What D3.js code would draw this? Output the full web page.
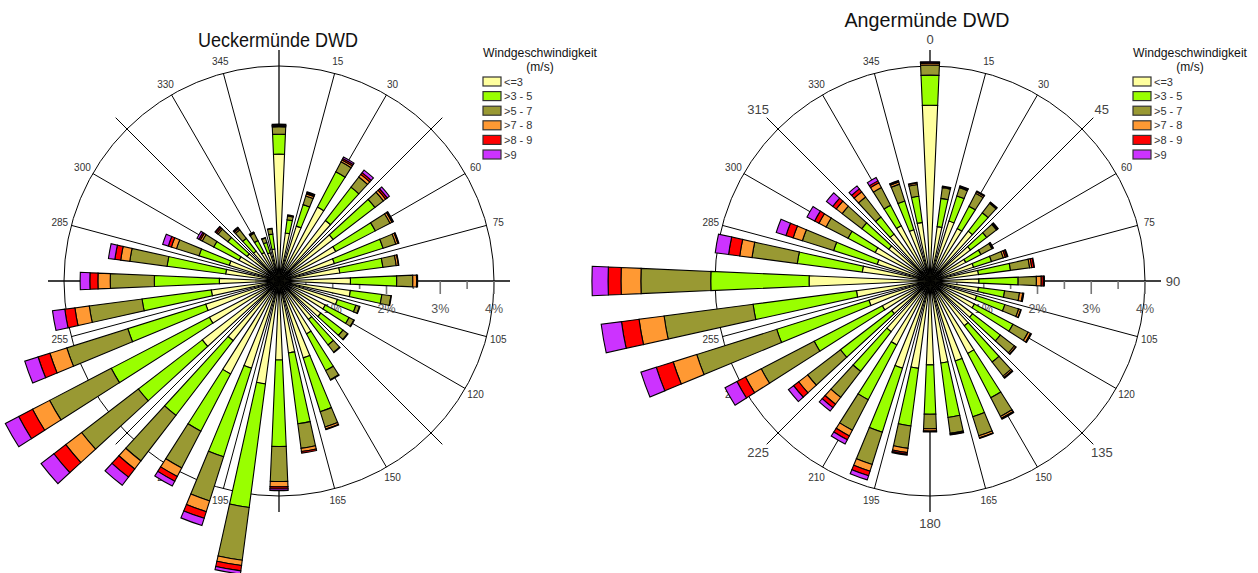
<!DOCTYPE html>
<html><head><meta charset="utf-8">
<script src="https://cdn.jsdelivr.net/npm/d3@7"></script>
<style>
body{margin:0;background:#fff}
svg{display:block}
text{font-family:"Liberation Sans",Arial,sans-serif}
</style>
</head><body>
<svg id="chart" width="1258" height="573"></svg>
<script>
// ---------- data ----------
const directions = d3.range(0, 360, 10); // 0,10,...,350
const speedClasses = ["<=3", ">3 - 5", ">5 - 7", ">7 - 8", ">8 - 9", ">9"];
const speedColors = ["#FFFF9E", "#99FF00", "#999933", "#FF9933", "#FF0000", "#CC33FF"];
const angleLabels = [15, 30, 60, 75, 105, 120, 150, 165, 195, 210, 240, 255, 285, 300, 330, 345];
const cardinalLabels = [0, 45, 90, 135, 180, 225, 270, 315];
const percentTicks = [0.5, 1, 1.5, 2, 2.5, 3, 3.5, 4];
const percentLabels = [1, 2, 3, 4];

// Ueckermünde DWD (% frequency per direction)
const ueck_le3 = [2.36,0.90,1.07,1.55,1.42,1.27,1.19,1.08,1.14,1.33,1.34,1.14,0.97,0.98,0.90,1.11,1.50,1.35,1.47,1.93,1.70,1.95,1.40,1.80,1.46,1.43,1.27,1.11,1.00,0.97,0.84,0.75,0.70,0.60,0.55,0.60];
const ueck_3_5 = [0.37,0.25,0.42,0.74,0.78,0.98,0.83,0.95,0.81,0.86,0.59,0.36,0.50,0.52,0.60,0.77,1.05,1.33,1.61,2.32,1.73,1.20,1.75,1.50,2.06,1.52,1.30,1.21,1.10,0.59,0.53,0.45,0.30,0.25,0.20,0.28];
const ueck_5_7 = [0.14,0.07,0.17,0.21,0.24,0.20,0.31,0.25,0.25,0.30,0.17,0.07,0.10,0.11,0.17,0.19,0.30,0.46,0.65,0.99,0.86,0.77,1.07,1.33,1.29,1.19,0.99,0.82,0.70,0.44,0.24,0.23,0.20,0.15,0.09,0.10];
const ueck_7_8 = [0.02,0.01,0.04,0.04,0.06,0.05,0.04,0.04,0.04,0.07,0.01,0.01,0.01,0.01,0.01,0.01,0.04,0.06,0.10,0.10,0.21,0.18,0.19,0.37,0.36,0.33,0.27,0.23,0.17,0.10,0.04,0.03,0.03,0.01,0.01,0.01];
const ueck_8_9 = [0.01,0.01,0.02,0.03,0.04,0.04,0.02,0.01,0.01,0.02,0,0,0,0,0,0,0.01,0.03,0.04,0.10,0.13,0.10,0.19,0.28,0.29,0.23,0.19,0.15,0.11,0.06,0.03,0.03,0.02,0.01,0,0];
const ueck_gt9 = [0.02,0,0.02,0.03,0.06,0.05,0.01,0.01,0,0,0,0,0,0,0,0,0,0,0.03,0.06,0.14,0.10,0.19,0.30,0.28,0.26,0.23,0.18,0.12,0.11,0.04,0.01,0.01,0.01,0,0];

// Angermünde DWD
const ang_le3 = [3.27,1.02,1.17,1.10,1.17,0.95,0.75,0.85,0.91,0.91,0.91,0.91,0.93,1.00,1.05,1.52,1.56,1.54,1.56,1.64,1.70,1.34,1.19,0.90,1.00,1.19,1.38,2.25,1.27,1.03,1.15,0.97,1.10,1.16,1.00,1.10];
const ang_3_5 = [0.56,0.53,0.49,0.47,0.43,0.38,0.32,0.35,0.60,0.73,0.49,0.55,0.81,0.65,0.85,0.93,1.09,1.02,0.92,1.08,1.25,1.15,0.93,1.20,1.43,1.80,1.94,1.83,1.22,0.85,0.57,0.63,0.40,0.43,0.56,0.49];
const ang_5_7 = [0.19,0.20,0.16,0.27,0.22,0.23,0.23,0.23,0.36,0.34,0.28,0.27,0.32,0.33,0.33,0.39,0.37,0.30,0.27,0.42,0.63,0.64,0.61,0.77,1.11,1.56,1.67,1.30,0.85,0.61,0.46,0.46,0.47,0.37,0.33,0.22];
const ang_7_8 = [0.03,0.02,0.02,0.03,0.02,0.02,0.02,0.04,0.04,0.09,0.06,0.04,0.05,0.03,0.03,0.04,0.04,0.02,0.04,0.08,0.13,0.12,0.16,0.21,0.33,0.46,0.47,0.37,0.23,0.18,0.15,0.14,0.12,0.10,0.04,0.03];
const ang_8_9 = [0.02,0.01,0.01,0.02,0.01,0.02,0.01,0.03,0.04,0.04,0.01,0.01,0.02,0.01,0.02,0.02,0.01,0.01,0.01,0.03,0.09,0.08,0.08,0.12,0.18,0.33,0.33,0.24,0.21,0.14,0.09,0.08,0.07,0.04,0.02,0.01];
const ang_gt9 = [0.01,0,0.01,0,0,0,0,0.02,0.01,0.02,0.01,0,0,0,0,0,0,0,0.01,0.02,0.08,0.09,0.08,0.12,0.25,0.30,0.38,0.30,0.25,0.19,0.16,0.15,0.07,0.07,0.01,0];

// ---------- drawing ----------
const svg = d3.select("#chart");
const rScale = d3.scaleLinear().domain([0, 4]).range([0, 215]);
const toRad = a => a * Math.PI / 180;
const colorScale = d3.scaleOrdinal().domain(speedClasses).range(speedColors);
const arcGen = d3.arc();
const polar = (a, r) => [r * Math.sin(toRad(a)), -r * Math.cos(toRad(a))];

function drawRose(cfg) {
  const g = svg.append("g").attr("transform", `translate(${cfg.cx},${cfg.cy})`);
  const R = rScale(4);

  g.append("circle").attr("r", R).attr("fill", "none").attr("stroke", "#000").attr("stroke-width", 1);

  g.selectAll("line.spoke").data(d3.range(0, 360, 15)).join("line")
    .attr("class", "spoke")
    .attr("x1", 0).attr("y1", 0)
    .attr("x2", a => polar(a, a % 45 === 0 ? 231 : R)[0])
    .attr("y2", a => polar(a, a % 45 === 0 ? 231 : R)[1])
    .attr("stroke", "#000")
    .attr("stroke-width", a => a % 90 === 0 ? 1.3 : 1);

  g.selectAll("line.ptick").data(percentTicks).join("line")
    .attr("class", "ptick")
    .attr("x1", v => rScale(v)).attr("x2", v => rScale(v))
    .attr("y1", 0).attr("y2", v => Number.isInteger(v) ? 13 : 8)
    .attr("stroke", "#777").attr("stroke-width", 1.6);

  g.selectAll("text.plabel").data(percentLabels).join("text")
    .attr("class", "plabel")
    .attr("x", v => rScale(v)).attr("y", 32)
    .attr("text-anchor", "middle")
    .attr("font-size", 12.5).attr("fill", "#555")
    .text(v => v + "%");

  g.selectAll("text.alabel").data(angleLabels).join("text")
    .attr("class", "alabel")
    .attr("x", a => polar(a, 227)[0]).attr("y", a => polar(a, 227)[1])
    .attr("text-anchor", "middle").attr("dominant-baseline", "central")
    .attr("font-size", 10).attr("fill", "#333")
    .text(a => a);

  if (cfg.bigLabels) {
    g.selectAll("text.clabel").data(cardinalLabels).join("text")
      .attr("class", "clabel")
      .attr("x", a => polar(a, a % 90 === 0 ? 242 : 243)[0] + (a === 90 ? 1 : 0))
      .attr("y", a => polar(a, a % 90 === 0 ? 242 : 243)[1])
      .attr("text-anchor", "middle").attr("dominant-baseline", "central")
      .attr("font-size", 13).attr("fill", "#444")
      .text(a => a);
  }

  const half = 2.5;
  directions.forEach((dir, i) => {
    let cum = 0;
    cfg.series.forEach((arr, k) => {
      const v = arr[i];
      if (v <= 0) return;
      const r0 = rScale(cum), r1 = rScale(cum + v);
      cum += v;
      g.append("path")
        .attr("d", arcGen({innerRadius: r0, outerRadius: r1,
                           startAngle: toRad(dir - half), endAngle: toRad(dir + half)}))
        .attr("fill", colorScale(speedClasses[k]))
        .attr("stroke", "#000").attr("stroke-width", 1.1)
        .attr("stroke-linejoin", "miter");
    });
  });

  svg.append("text")
    .attr("x", cfg.titleX).attr("y", cfg.titleY)
    .attr("text-anchor", "middle").attr("font-size", 20).attr("fill", "#111")
    .attr("textLength", cfg.titleLen).attr("lengthAdjust", "spacingAndGlyphs")
    .text(cfg.title);

  const lg = svg.append("g").attr("transform", `translate(${cfg.legendX},0)`);
  lg.append("text").attr("x", 0).attr("y", 57).attr("font-size", 12.5).attr("fill", "#111")
    .attr("textLength", 114).attr("lengthAdjust", "spacingAndGlyphs")
    .text("Windgeschwindigkeit");
  lg.append("text").attr("x", 57).attr("y", 71).attr("text-anchor", "middle")
    .attr("font-size", 12).attr("fill", "#111").text("(m/s)");
  const items = lg.selectAll("g.item").data(speedClasses).join("g")
    .attr("class", "item")
    .attr("transform", (d, i) => `translate(0,${77 + i * 14.6})`);
  items.append("rect").attr("width", 18).attr("height", 9)
    .attr("fill", d => colorScale(d)).attr("stroke", "#333").attr("stroke-width", 1.2);
  items.append("text").attr("x", 21).attr("y", 8.5).attr("font-size", 11).attr("fill", "#333")
    .text(d => d);
}

drawRose({
  cx: 279, cy: 281, title: "Ueckermünde DWD", titleX: 278, titleY: 47, titleLen: 160,
  bigLabels: false, legendX: 483,
  series: [ueck_le3, ueck_3_5, ueck_5_7, ueck_7_8, ueck_8_9, ueck_gt9]
});
drawRose({
  cx: 930, cy: 281, title: "Angermünde DWD", titleX: 927, titleY: 27, titleLen: 165,
  bigLabels: true, legendX: 1133,
  series: [ang_le3, ang_3_5, ang_5_7, ang_7_8, ang_8_9, ang_gt9]
});
</script>
</body></html>
